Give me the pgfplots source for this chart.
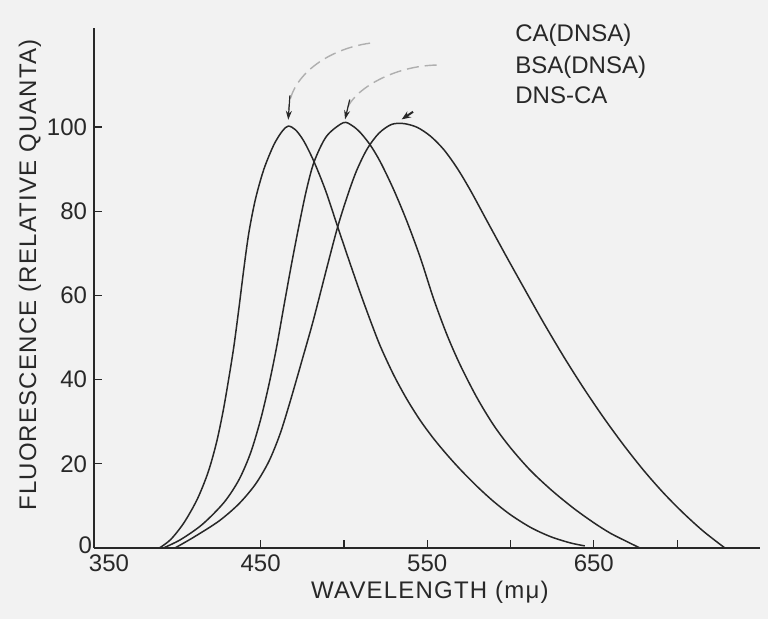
\documentclass[border=0pt]{standalone}
\usepackage{fontspec}
\setmainfont{Liberation Sans}
\newfontfamily\spaced[LetterSpace=5]{Liberation Sans}
\usepackage{pgfplots}
\pgfplotsset{compat=1.18}
\usetikzlibrary{arrows.meta}
\definecolor{bg}{RGB}{242,242,242}
\definecolor{ink}{RGB}{40,40,40}
\definecolor{faint}{RGB}{175,175,175}
\begin{document}
\begin{tikzpicture}
\fill[bg] (-47bp,-35.5bp) rectangle (337bp,274bp);
\useasboundingbox (-47bp,-35.5bp) rectangle (337bp,274bp);
\begin{axis}[
  at={(0,0)}, anchor=south west,
  scale only axis, width=333.2bp, height=260bp,
  xmin=350, xmax=750, ymin=0, ymax=123.5,
  axis lines*=left,
  axis line style={line width=1.3bp, ink},
  xtick={450,500,...,700}, xticklabels={450,,550,,650,},
  ytick={20,40,...,100},
  extra x ticks={350}, extra x tick labels={350},
  extra x tick style={major tick length=0pt, tick label style={xshift=7.5bp}},
  extra y ticks={0}, extra y tick labels={0},
  extra y tick style={major tick length=0pt, tick label style={xshift=2.5bp, yshift=1.5bp}},
  tick align=inside, major tick length=4bp,
  tick style={ink, line width=0.6bp},
  tick label style={font=\fontsize{12bp}{14bp}\selectfont, text=ink},
  /pgf/number format/assume math mode=true,
  every axis x label/.style={at={(axis description cs:0.504,0)}, yshift=-22bp, anchor=center},
  every axis y label/.style={at={(axis description cs:-0.0961,0.525)}, rotate=90, anchor=center},
  label style={font=\spaced\fontsize{12bp}{14bp}\selectfont, text=ink},
  xlabel={WAVELENGTH (mμ)},
  ylabel={FLUORESCENCE (RELATIVE QUANTA)},
  clip=false,
]
% CA(DNSA)
\addplot[ink, line width=0.75bp, smooth, mark=none] coordinates {
(389.2,0) (396,2.0) (404,6.0) (412,11.6) (418.5,18) (423.5,25) (427.5,32.5)
(431,40.5) (434,48) (437,57) (440,66.5) (443,75) (447,83) (452,90) (458,95.8)
(463,99) (466.6,100.2) (471,99.3) (476,96.6) (482,91.8) (489,84.9) (496,76.6)
(503,68.4) (510,60.4) (516,53.9) (522,47.8) (530,41.0) (538,35.2) (546,30.2)
(554,25.9) (562,22.1) (570,18.6) (580,14.6) (590,11.0) (600,7.9) (612,4.9)
(624,2.7) (636,1.2) (644.6,0.5)
};
% BSA(DNSA)
\addplot[ink, line width=0.75bp, smooth, mark=none] coordinates {
(391.6,0) (402,2.0) (415,5.6) (428,10.8) (437,16.2) (444,22.6) (450,30.5)
(455,38.8) (459.5,47.5) (464,57.5) (468.5,67.3) (473,76.5) (477.5,85)
(482.2,91.8) (489.6,97.8) (499.6,101) (505,100.3) (510,98.6) (516,95.6)
(522,91.6) (530,85.0) (538,77.4) (546,68.8) (554,59) (562,50.5) (570,43.3)
(580,35.6) (590,29.1) (600,23.8) (612,18.4) (625,13.6) (638,9.4) (650,6.0)
(660,3.5) (670,1.5) (677.7,0)
};
% DNS-CA
\addplot[ink, line width=0.75bp, smooth, mark=none] coordinates {
(398.6,0) (410,2.6) (425,6.4) (437,10.5) (447,15.2) (455,20.6) (461.6,27)
(467.6,34.6) (475.6,45.6) (481.6,54) (489.6,66.3) (496,75.9) (502,83.5)
(507.6,89.6) (514,94.8) (521,98.5) (528.6,100.6) (536,100.8) (544,99.9)
(552,97.8) (560,94.6) (568,90.2) (576,84.9) (586,77.6) (598,68.9) (610,60.4)
(620,53.4) (632,45.4) (644,37.9) (656,30.9) (668,24.4) (680,18.4) (692,13)
(704,8.2) (716,3.9) (728.7,0)
};
% annotation arrows
\draw[faint, line width=0.7bp, dash pattern=on 6bp off 3bp] (axis cs:515.7,119.9) .. controls (axis cs:490,118.5) and (axis cs:467.5,112) .. (axis cs:466.8,104);
\draw[ink, line width=0.6bp, -{Stealth[length=4.5bp,width=3bp]}] (axis cs:467.6,107.5) -- (axis cs:466.6,101.7);
\draw[faint, line width=0.7bp, dash pattern=on 6bp off 3bp] (axis cs:555.7,114.7) .. controls (axis cs:530,114.5) and (axis cs:506,109) .. (axis cs:501.5,104);
\draw[ink, line width=0.6bp, -{Stealth[length=4.5bp,width=3bp]}] (axis cs:503.5,106.5) -- (axis cs:500.7,101.8);
\draw[ink, line width=1bp, -{Stealth[length=4.5bp,width=3.5bp]}] (axis cs:541.5,103.6) -- (axis cs:534.7,101.8);
\end{axis}
\begin{scope}[every node/.style={anchor=west, inner sep=0pt, text=ink, font=\fontsize{12bp}{14bp}\selectfont}]
\node at (210.5bp,256.6bp) {CA(DNSA)};
\node at (210.5bp,240.6bp) {BSA(DNSA)};
\node at (210.5bp,226.5bp) {DNS-CA};
\end{scope}
\end{tikzpicture}
\end{document}
